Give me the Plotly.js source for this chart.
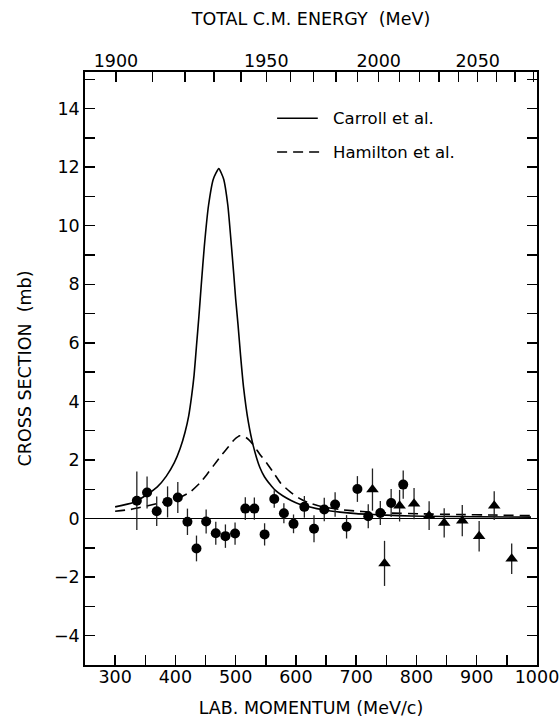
<!DOCTYPE html>
<html>
<head>
<meta charset="utf-8">
<script src="https://cdn.plot.ly/plotly-3.0.1.min.js"></script>
<style>html,body{margin:0;padding:0;background:#fff;}#chart{width:560px;height:721px;}</style>
</head>
<body>
<div id="chart"></div>
<script>
// Circles (data set 1)
const circP = [336, 353, 369, 387, 404, 420, 435, 451, 467, 483, 499, 516, 531, 548, 564, 580, 596, 614, 630, 647, 665, 684, 702, 720, 740, 758, 778];
const circY = [0.61, 0.89, 0.25, 0.57, 0.72, -0.11, -1.02, -0.10, -0.50, -0.60, -0.51, 0.34, 0.34, -0.54, 0.67, 0.18, -0.18, 0.40, -0.35, 0.31, 0.48, -0.28, 1.01, 0.08, 0.19, 0.53, 1.16];
const circE = [1.0, 0.55, 0.5, 0.53, 0.53, 0.45, 0.44, 0.41, 0.39, 0.4, 0.38, 0.39, 0.38, 0.38, 0.3, 0.34, 0.32, 0.37, 0.46, 0.4, 0.42, 0.4, 0.44, 0.41, 0.41, 0.48, 0.48];
// Triangles (data set 2)
const triP = [727, 747, 772, 796, 821, 846, 876, 904, 929, 958];
const triY = [0.99, -1.53, 0.44, 0.51, 0.10, -0.15, -0.07, -0.60, 0.44, -1.37];
const triE = [0.72, 0.77, 0.54, 0.53, 0.49, 0.5, 0.53, 0.52, 0.49, 0.52];
// Carroll et al. curve
const carP = [300, 330, 350, 370, 385, 398, 408, 416, 422, 427, 431, 435, 439, 443, 448, 455, 463, 472, 480, 487, 493, 497, 500, 504, 508, 513, 521, 529, 540, 548, 557, 565, 578, 592, 605, 620, 645, 673, 700, 728, 770, 811, 900, 990];
const carY = [0.40, 0.55, 0.78, 1.08, 1.45, 1.90, 2.40, 2.95, 3.50, 4.20, 4.90, 5.90, 6.90, 8.00, 9.30, 10.70, 11.60, 11.95, 11.60, 10.70, 9.30, 8.30, 7.50, 6.60, 5.60, 4.50, 3.30, 2.50, 1.75, 1.42, 1.17, 0.98, 0.78, 0.62, 0.50, 0.41, 0.30, 0.22, 0.17, 0.14, 0.10, 0.08, 0.06, 0.05];
// Hamilton et al. curve
const hamP = [300, 325, 363, 402, 424, 440, 452, 463, 474, 488, 498, 507, 517, 528, 540, 552, 565, 575, 590, 605, 620, 645, 673, 710, 756, 810, 867, 930, 990];
const hamY = [0.25, 0.31, 0.48, 0.67, 0.90, 1.20, 1.50, 1.80, 2.10, 2.45, 2.70, 2.83, 2.77, 2.55, 2.20, 1.88, 1.50, 1.20, 0.92, 0.70, 0.55, 0.40, 0.31, 0.24, 0.19, 0.16, 0.14, 0.12, 0.10];
// Axis ticks
const labTicks = [300, 350, 400, 450, 500, 550, 600, 650, 700, 750, 800, 850, 900, 950, 1000];
const labText = ['300', '', '400', '', '500', '', '600', '', '700', '', '800', '', '900', '', '1000'];
const cmEnergies = [1900, 1910, 1920, 1930, 1940, 1950, 1960, 1970, 1980, 1990, 2000, 2010, 2020, 2030, 2040, 2050, 2060, 2070, 2080];
const cmText = ['1900', '', '', '', '', '1950', '', '', '', '', '2000', '', '', '', '', '2050', '', '', ''];
const yTicks = [-4, -3, -2, -1, 0, 1, 2, 3, 4, 5, 6, 7, 8, 9, 10, 11, 12, 13, 14, 15];
const yText = ['\u22124', '', '\u22122', '', '0', '', '2', '', '4', '', '6', '', '8', '', '10', '', '12', '', '14', ''];

// convert total CM energy (pbar-p) to lab momentum for top-axis tick positions
const mp = 938.27;
function cmToLab(W) {
  const E = (W * W - 2 * mp * mp) / (2 * mp);
  return Math.sqrt(E * E - mp * mp);
}
const cmTickPos = cmEnergies.map(cmToLab);

const font = 'DejaVu Sans, Liberation Sans, Arial, sans-serif';
const nb = '\u00a0';

const traces = [
  {x: carP, y: carY, mode: 'lines', line: {color: '#000', width: 1.6, shape: 'spline', smoothing: 0.5}, name: 'Carroll et al.', showlegend: false},
  {x: hamP, y: hamY, mode: 'lines', line: {color: '#000', width: 1.6, dash: '10px,6px', shape: 'spline', smoothing: 0.5}, name: 'Hamilton et al.', showlegend: false},
  {x: circP, y: circY, mode: 'markers', marker: {symbol: 'circle', size: 10, color: '#000'},
   error_y: {type: 'data', array: circE, visible: true, color: '#222', thickness: 1.3, width: 0}, showlegend: false},
  {x: triP, y: triY, mode: 'markers', marker: {symbol: 'triangle-up', size: 11, color: '#000'},
   error_y: {type: 'data', array: triE, visible: true, color: '#222', thickness: 1.3, width: 0}, showlegend: false},
  {x: [300], y: [0], xaxis: 'x2', mode: 'markers', marker: {opacity: 0}, hoverinfo: 'skip', showlegend: false}
];

const layout = {
  width: 560, height: 721,
  margin: {l: 85, r: 23, t: 72, b: 56},
  paper_bgcolor: '#fff', plot_bgcolor: '#fff',
  font: {family: font, color: '#000', size: 18},
  showlegend: false,
  xaxis: {
    range: [250, 1000], tickmode: 'array', tickvals: labTicks, ticktext: labText,
    ticks: 'inside', ticklen: 10, tickwidth: 1.5, tickcolor: '#000',
    showline: true, linewidth: 1.8, linecolor: '#000', mirror: true,
    showgrid: false, zeroline: false, ticklabelstandoff: -5,
    tickfont: {size: 17.5, family: font},
    title: {text: 'LAB.' + nb + 'MOMENTUM' + nb + '(MeV/c)', font: {size: 17.5, family: font}, standoff: 16}
  },
  xaxis2: {
    overlaying: 'x', side: 'top', range: [250, 1000], tickmode: 'array',
    tickvals: cmTickPos, ticktext: cmText,
    ticks: 'inside', ticklen: 10, tickwidth: 1.5, tickcolor: '#000',
    showline: true, linewidth: 1.8, linecolor: '#000',
    showgrid: false, zeroline: false, ticklabelstandoff: -4,
    tickfont: {size: 17.5, family: font},
    title: {text: 'TOTAL' + nb + 'C.M.' + nb + 'ENERGY' + nb + nb + '(MeV)', font: {size: 17.5, family: font}, standoff: 21}
  },
  yaxis: {
    range: [-5, 15.25], tickmode: 'array', tickvals: yTicks, ticktext: yText,
    ticks: 'inside', ticklen: 10, tickwidth: 1.5, tickcolor: '#000',
    showline: true, linewidth: 1.8, linecolor: '#000', mirror: 'ticks',
    showgrid: false, zeroline: true, zerolinecolor: '#000', zerolinewidth: 1,
    tickfont: {size: 17.5, family: font},
    title: {text: 'CROSS' + nb + 'SECTION' + nb + nb + '(mb)', font: {size: 17.5, family: font}, standoff: 18}
  },
  shapes: [
    {type: 'line', xref: 'paper', yref: 'paper', x0: 0.425, x1: 0.515, y0: 0.922, y1: 0.922, line: {color: '#000', width: 1.6}},
    {type: 'line', xref: 'paper', yref: 'paper', x0: 0.425, x1: 0.523, y0: 0.865, y1: 0.865, line: {color: '#000', width: 1.6, dash: '10px,6px'}}
  ],
  annotations: [
    {xref: 'paper', yref: 'paper', x: 0.545, y: 0.922, xanchor: 'left', yanchor: 'middle', text: 'Carroll et al.', showarrow: false, font: {size: 16.5, family: font}},
    {xref: 'paper', yref: 'paper', x: 0.545, y: 0.865, xanchor: 'left', yanchor: 'middle', text: 'Hamilton et al.', showarrow: false, font: {size: 16.5, family: font}}
  ]
};

Plotly.newPlot('chart', traces, layout, {displayModeBar: false, staticPlot: true});
</script>
</body>
</html>
